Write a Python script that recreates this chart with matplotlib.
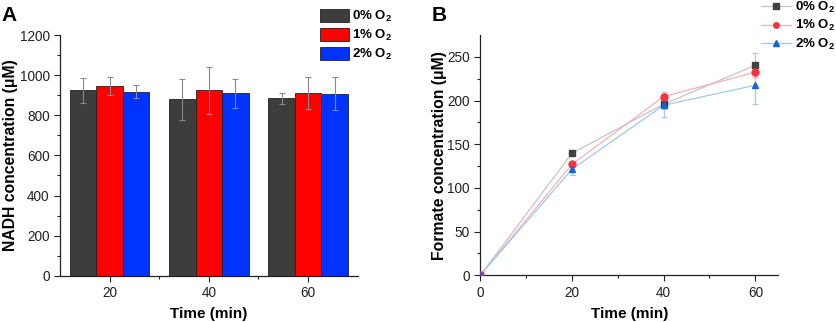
import numpy as np
import matplotlib
matplotlib.use('Agg')
import matplotlib.pyplot as plt
from matplotlib.lines import Line2D
from matplotlib.patches import Patch

plt.rcParams['font.family'] = ['Liberation Sans', 'DejaVu Sans']
plt.rcParams['mathtext.fontset'] = 'custom'
plt.rcParams['mathtext.rm'] = 'Liberation Sans'
plt.rcParams['mathtext.bf'] = 'Liberation Sans:bold'

# data
labels = [r'0% O$_\mathbf{2}$', r'1% O$_\mathbf{2}$', r'2% O$_\mathbf{2}$']
times_a = ['20', '40', '60']
nadh = [[926, 881, 886],
        [946, 926, 912],
        [917, 909, 907]]
nadh_err = [[62, 102, 27],
            [46, 117, 80],
            [32, 73, 82]]

times_b = [0, 20, 40, 60]
formate = [[0, 139.7, 195.9, 240.5],
           [0, 127.0, 204.6, 232.5],
           [0, 121.4, 194.7, 217.6]]
formate_err = [[0, 3, 5, 14],
               [0, 3, 5, 6],
               [0, 7, 13, 21]]

bar_colors = ['#3d3d3d', '#ff0000', '#0033ff']
mk_colors = ['#404040', '#f5333f', '#1565d8']
ln_colors = ['#c4c4c4', '#f5b0b5', '#a2c8ee']
markers = ['s', 'o', '^']

fig = plt.figure(figsize=(8.37, 3.22), dpi=100)
axA = fig.add_axes([0.0717, 0.1438, 0.3557, 0.747])
axB = fig.add_axes([0.5738, 0.145, 0.356, 0.746])

for ax in (axA, axB):
    ax.spines['top'].set_visible(False)
    ax.spines['right'].set_visible(False)
    for s in ('left', 'bottom'):
        ax.spines[s].set_linewidth(0.9)
        ax.spines[s].set_color('#222222')
    ax.tick_params(which='major', direction='out', length=4, width=0.8, labelsize=9.8, colors='#222222')
    ax.tick_params(which='minor', direction='out', length=2.5, width=0.8, colors='#222222')

# panel A
x = np.arange(len(times_a))
w = 0.8 / 3
for i in range(3):
    axA.bar(x + (i - 1) * w, nadh[i], w, color=bar_colors[i], edgecolor='#222222', linewidth=0.6,
            yerr=nadh_err[i], error_kw=dict(ecolor='#8a8a8a', elinewidth=0.8, capsize=2.5, capthick=0.8))
axA.set_xlim(-0.5, 2.5)
axA.set_ylim(0, 1200)
axA.set_xticks(x)
axA.set_xticklabels(times_a)
axA.set_xticks([0.5, 1.5], minor=True)
axA.set_yticks(np.arange(0, 1201, 200))
axA.set_yticks(np.arange(100, 1200, 200), minor=True)
axA.set_xlabel('Time (min)', fontsize=11, fontweight='bold', labelpad=5)
axA.set_ylabel('NADH concentration (\u03bcM)', fontsize=11.3, fontweight='bold')
axA.yaxis.set_label_coords(-0.142, 0.5)

handles_a = [Patch(facecolor=c, edgecolor='#222222', linewidth=0.6) for c in bar_colors]
fig.legend(handles_a, labels, loc='upper left', bbox_to_anchor=(320 / 837, 1 - 9 / 322),
           frameon=False, borderpad=0, borderaxespad=0, handlelength=2.2, handleheight=1.1,
           labelspacing=0.3, handletextpad=0.25, prop={'weight': 'bold', 'size': 9.5})

# panel B
for i in range(3):
    axB.plot(times_b, formate[i], color=ln_colors[i], linewidth=0.9, zorder=2)
    axB.errorbar(times_b, formate[i], yerr=formate_err[i], fmt='none', ecolor=ln_colors[i],
                 elinewidth=0.9, capsize=2.5, capthick=0.9, zorder=2)
    axB.plot(times_b, formate[i], linestyle='none', marker=markers[i], color=mk_colors[i],
             markersize=5, zorder=3)
axB.set_xlim(0, 65)
axB.set_ylim(0, 275)
axB.set_xticks([0, 20, 40, 60])
axB.set_xticks([10, 30, 50], minor=True)
axB.set_yticks(np.arange(0, 251, 50))
axB.set_yticks(np.arange(25, 275, 50), minor=True)
axB.set_xlabel('Time (min)', fontsize=11, fontweight='bold', labelpad=5)
axB.set_ylabel('Formate concentration (\u03bcM)', fontsize=11.3, fontweight='bold')
axB.yaxis.set_label_coords(-0.11, 0.5)

handles_b = [Line2D([], [], color=ln_colors[i], linewidth=0.9, marker=markers[i],
                    markerfacecolor=mk_colors[i], markeredgecolor=mk_colors[i], markersize=4)
             for i in range(3)]
fig.legend(handles_b, labels, loc='upper left', bbox_to_anchor=(761 / 837, 1.0),
           frameon=False, borderpad=0, borderaxespad=0, handlelength=2.3, labelspacing=0.25,
           handletextpad=0.3, prop={'weight': 'bold', 'size': 9.5})

fig.text(1 / 837, 1 - 6 / 322, 'A', fontsize=15, fontweight='bold', va='top', ha='left')
fig.text(432 / 837, 1 - 6 / 322, 'B', fontsize=15, fontweight='bold', va='top', ha='left')

fig.savefig('out.png', dpi=100)
